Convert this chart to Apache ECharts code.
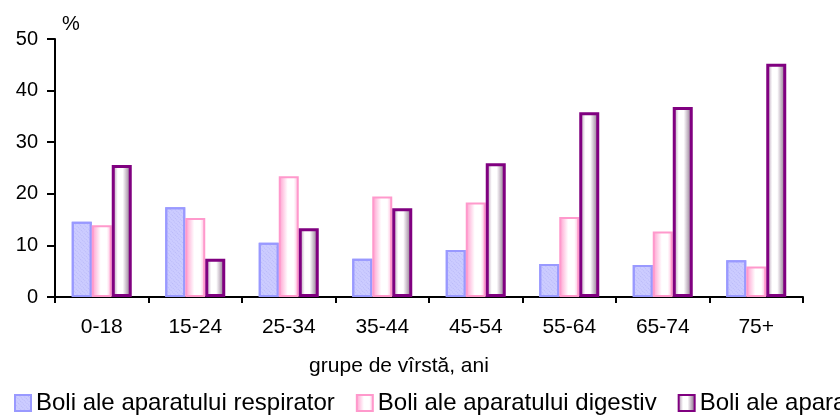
<!DOCTYPE html>
<html>
<head>
<meta charset="utf-8">
<script src="https://cdn.jsdelivr.net/npm/echarts@6/dist/echarts.min.js"></script>
<style>
  html, body { margin: 0; padding: 0; background: #fff; }
  #chart { width: 840px; height: 417px; }
</style>
</head>
<body>
<div id="chart"></div>
<script>
// age groups
const categories = ['0-18', '15-24', '25-34', '35-44', '45-54', '55-64', '65-74', '75+']
const seriesNames = [
  'Boli ale aparatului respirator',
  'Boli ale aparatului digestiv',
  'Boli ale aparatului circulator'
]
// values, %
const respirator = [14.6, 17.4, 10.5, 7.4, 9.1, 6.4, 6.2, 7.1]
const digestiv = [13.9, 15.3, 23.4, 19.5, 18.3, 15.5, 12.7, 5.9]
const circulator = [25.6, 7.4, 13.3, 17.2, 25.9, 35.8, 36.8, 45.2]
const yTicks = [0, 10, 20, 30, 40, 50]

const font = 'Liberation Sans, Arial, sans-serif'

const chart = echarts.init(document.getElementById('chart'), null, { renderer: 'canvas' })

const hGrad = (stops) => new echarts.graphic.LinearGradient(0, 0, 1, 0,
  stops.map(s => ({ offset: s[0], color: s[1] })))

const styles = [
  {
    color: '#ccccff',
    borderColor: '#9999ff',
    borderWidth: 2,
    decal: {
      symbol: 'rect',
      symbolSize: 1,
      color: 'rgba(150,150,235,0.35)',
      dashArrayX: [1, 1],
      dashArrayY: [1, 2],
      rotation: Math.PI / 4
    }
  },
  {
    color: hGrad([[0, '#ff99cc'], [0.45, '#ffffff'], [0.75, '#ffffff'], [1, '#ffb3d9']]),
    borderColor: '#ff99cc',
    borderWidth: 2
  },
  {
    color: hGrad([[0, '#a080a0'], [0.3, '#ffffff'], [0.55, '#ffffff'], [1, '#7a5a7a']]),
    borderColor: '#800080',
    borderWidth: 3
  }
]

const data = [respirator, digestiv, circulator]

chart.setOption({
  animation: false,
  backgroundColor: '#ffffff',
  grid: { left: 55, right: 37, top: 39, bottom: 120 },
  legend: {
    left: 9,
    top: 386,
    width: 2000,
    itemWidth: 16,
    itemHeight: 16,
    itemGap: 21,
    icon: 'rect',
    textStyle: { fontFamily: font, fontSize: 24, color: '#000' },
    data: seriesNames
  },
  xAxis: {
    type: 'category',
    data: categories,
    name: 'grupe de vîrstă, ani',
    nameLocation: 'middle',
    nameGap: 59,
    nameTextStyle: { fontFamily: font, fontSize: 21, color: '#000', padding: [0, 60, 0, 0] },
    axisLine: { lineStyle: { color: '#000', width: 2 } },
    axisTick: { show: true, length: 6, lineStyle: { color: '#000', width: 2 } },
    axisLabel: { fontFamily: font, fontSize: 21, color: '#000', margin: 20 },
    splitLine: { show: false }
  },
  yAxis: {
    type: 'value',
    min: yTicks[0],
    max: yTicks[yTicks.length - 1],
    interval: 10,
    name: '%',
    nameLocation: 'end',
    nameGap: 5,
    nameTextStyle: { fontFamily: font, fontSize: 20, color: '#000', align: 'left', padding: [0, 0, 0, 7] },
    axisLine: { show: true, lineStyle: { color: '#000', width: 2 } },
    axisTick: { show: true, length: 8, lineStyle: { color: '#000', width: 2 } },
    axisLabel: { fontFamily: font, fontSize: 20, color: '#000', margin: 17 },
    splitLine: { show: false }
  },
  series: data.map((vals, i) => ({
    name: seriesNames[i],
    type: 'bar',
    data: vals,
    barWidth: 20,
    barGap: '0%',
    itemStyle: styles[i]
  }))
})
</script>
</body>
</html>
